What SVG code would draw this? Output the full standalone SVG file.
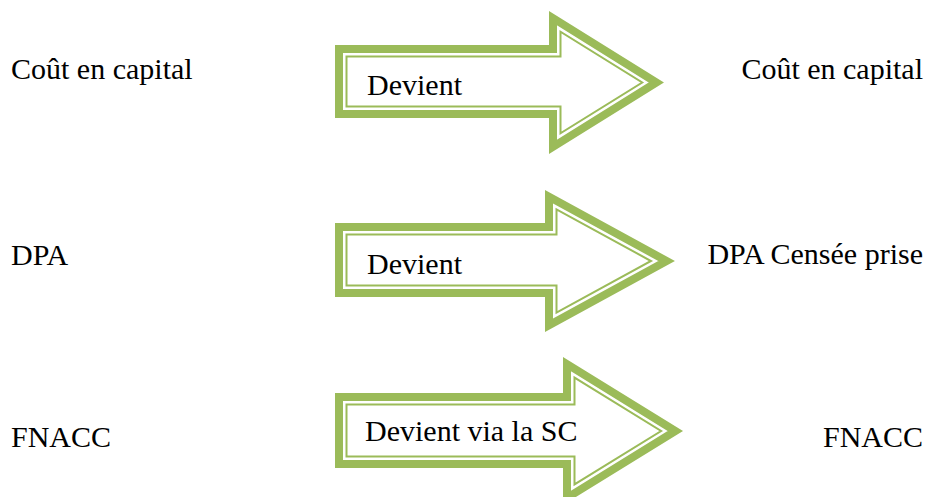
<svg xmlns="http://www.w3.org/2000/svg" width="928" height="497" viewBox="0 0 928 497">
<style>
text{font-family:'Liberation Serif','Tinos','DejaVu Serif','Noto Serif',Times,serif;font-size:30px;fill:#000}
.r{text-anchor:end}
.outer{fill:#fff;stroke:#9BBB59;stroke-width:8;stroke-linejoin:miter;stroke-miterlimit:10}
.inner{fill:none;stroke:#9BBB59;stroke-width:2;stroke-linejoin:miter;stroke-miterlimit:10}
</style>
<rect width="928" height="497" fill="#fff"/>
<g id="src1"><text x="11" y="79">Coût en capital</text></g>
<g id="src2"><text x="11" y="265">DPA</text></g>
<g id="src3"><text x="11" y="447">FNACC</text></g>
<g id="dst1"><text class="r" x="923" y="79">Coût en capital</text></g>
<g id="dst2"><text class="r" x="923" y="264">DPA Censée prise</text></g>
<g id="dst3"><text class="r" x="923" y="447">FNACC</text></g>
<g id="connectors">
<g id="arrow1">
<polygon class="outer" points="339,49 553,49 553,18.2 656.4,82.5 553,146.8 553,114 339,114"/>
<polygon class="inner" points="346.5,56.5 560.5,56.5 560.5,31.7 642.2,82.5 560.5,133.3 560.5,106.5 346.5,106.5"/>
<text x="367" y="95">Devient</text>
</g>
<g id="arrow2">
<polygon class="outer" points="339,227 549,227 549,196.7 666.6,261 549,325.3 549,293 339,293"/>
<polygon class="inner" points="346.5,234.5 556.5,234.5 556.5,209.4 651,261 556.5,312.6 556.5,285.5 346.5,285.5"/>
<text x="367" y="274">Devient</text>
</g>
<g id="arrow3">
<polygon class="outer" points="339,397 567,397 567,364.2 675.4,431 567,497.8 567,464 339,464"/>
<polygon class="inner" points="346.5,404.5 574.5,404.5 574.5,377.6 661.1,431 574.5,484.4 574.5,456.5 346.5,456.5"/>
<text x="365" y="441">Devient via la SC</text>
</g>
</g>
</svg>
